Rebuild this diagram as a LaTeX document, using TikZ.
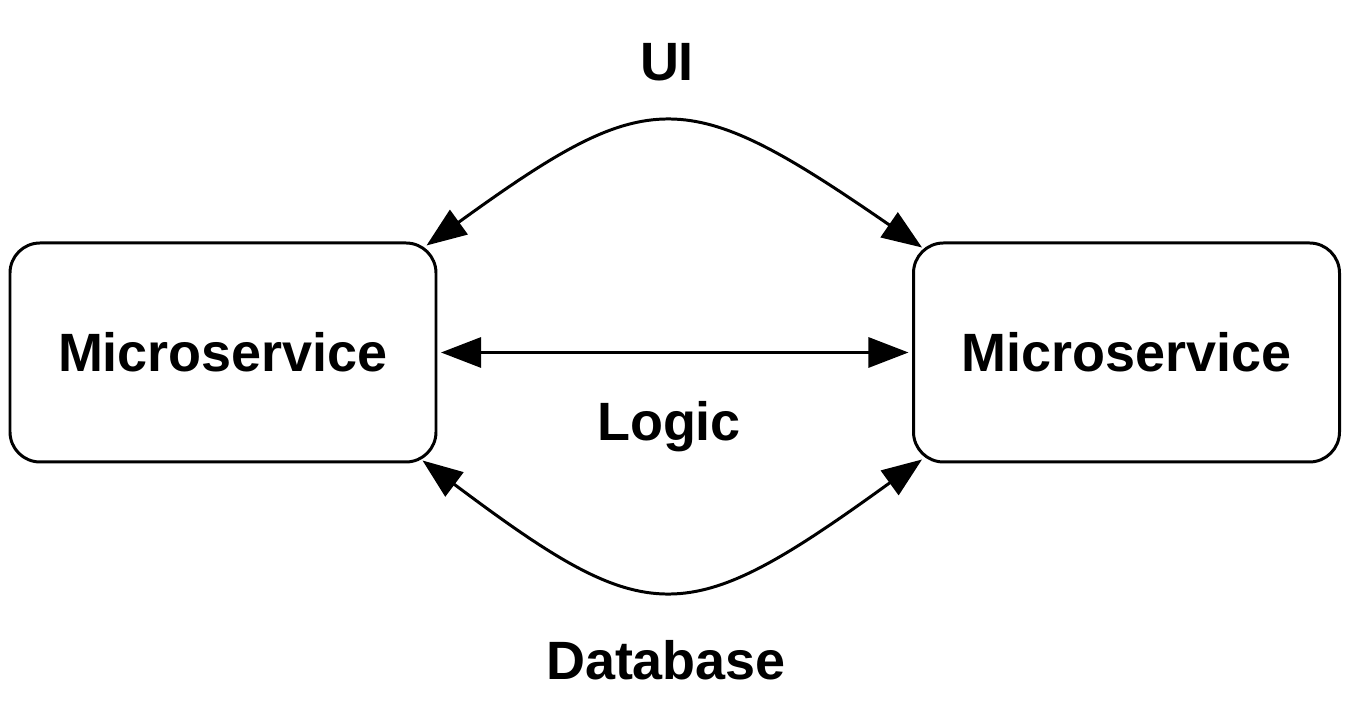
\documentclass[tikz,border=0pt]{standalone}
\usepackage{fontspec}
\setmainfont{Liberation Sans}
\usetikzlibrary{arrows.meta}

\tikzset{
	msbox/.style={draw, line width=1.7pt, rounded corners=0.6cm, minimum width=8.52cm, minimum height=4.38cm, font=\fontsize{30.7}{36}\selectfont\bfseries},
	link/.style={line width=1.7pt, {Triangle[length=0.8cm,width=0.6cm]}-{Triangle[length=0.8cm,width=0.6cm]}},
	lbl/.style={font=\fontsize{30.7}{36}\selectfont\bfseries}
}

\begin{document}
\begin{tikzpicture}
\useasboundingbox (0,0) rectangle (26.98,14.24);
\node[msbox] (lms) at (4.46,7.19) {Microservice};
\node[msbox] (rms) at (22.53,7.19) {Microservice};
\node[lbl] (ui) at (13.34,13.0) {UI};
\node[lbl] (logic) at (13.38,5.7) {Logic};
\node[lbl] (db) at (13.32,1.04) {Database};
% UI curve
\draw[link] ([shift={(-0.22,-0.08)}]lms.north east) .. controls (13.0,12.56) and (13.7,12.56) .. ([shift={(0.2,-0.12)}]rms.north west);
% logic
\draw[link, shorten <=2pt, shorten >=2pt] (lms.east) -- (rms.west);
% database curve
\draw[link] ([shift={(-0.3,0.06)}]lms.south east) .. controls (13.0,1.62) and (13.7,1.62) .. ([shift={(0.2,0.08)}]rms.south west);
\end{tikzpicture}
\end{document}
